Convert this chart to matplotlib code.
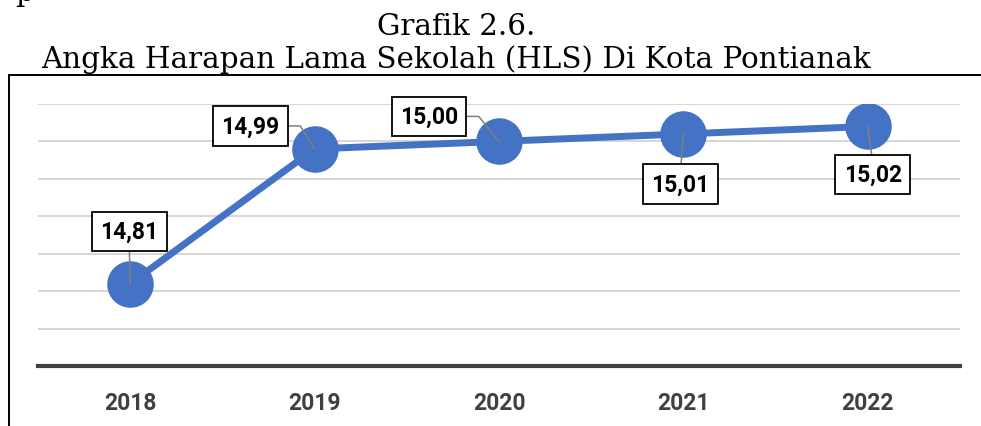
import numpy as np
import matplotlib.pyplot as plt
from matplotlib.patches import Rectangle

# Data
years = ['2018', '2019', '2020', '2021', '2022']
hls = [14.81, 14.99, 15.00, 15.01, 15.02]
labels = ['14,81', '14,99', '15,00', '15,01', '15,02']

# label box offsets (pixels) and leader style per point
offsets = [(-1, 52), (-64, 23), (-70, 25), (-3, -50), (5, -48)]
relpos = [(0.5, 0), (1, 0.5), (1, 0.5), (0.5, 1), (0.5, 1)]
conn = ['arc3', 'angle,angleA=0,angleB=122,rad=0', 'angle,angleA=0,angleB=129,rad=0',
        'arc3', 'arc3']

blue = '#4472C4'
W, H = 981, 427
lab_font = 'Roboto'

fig = plt.figure(figsize=(W / 100, H / 100), dpi=100)
ax = fig.add_axes([38 / W, 1 - 367 / H, 922 / W, (367 - 105) / H])

x = np.arange(len(years))
ax.plot(x, hls, color=blue, lw=5, marker='o', ms=32.5, zorder=3)

for i in range(len(years)):
    ax.annotate(labels[i], xy=(x[i], hls[i]), xytext=offsets[i],
                textcoords='offset pixels', ha='center', va='center',
                fontsize=16.5, fontweight='bold', family=lab_font, color='black',
                bbox=dict(boxstyle='square,pad=0.36', fc='white', ec='black', lw=1.3),
                arrowprops=dict(arrowstyle='-', color='#7f7f7f', lw=1.1,
                                shrinkA=0, shrinkB=0, relpos=relpos[i],
                                connectionstyle=conn[i]),
                zorder=5)

ax.set_xlim(-0.5, len(years) - 0.5)
ax.set_ylim(14.70, 15.05)
ax.set_yticks(np.arange(14.70, 15.051, 0.05))
ax.set_yticklabels([])
ax.set_xticks(x)
ax.set_xticklabels(years, fontsize=16.5, fontweight='bold', family=lab_font,
                   color='#404040')
ax.tick_params(axis='both', length=0)
ax.tick_params(axis='x', pad=18)
ax.grid(axis='y', color='#d0d0d0', lw=1.2)
ax.set_axisbelow(True)
for s in ['left', 'right', 'top']:
    ax.spines[s].set_visible(False)
ax.spines['bottom'].set_color('#404040')
ax.spines['bottom'].set_linewidth(3)
ax.spines['bottom'].set_zorder(2)

# outer chart border
fig.patches.append(Rectangle((8.5 / W, -0.2), 1.2, 1.2 - 76 / H, transform=fig.transFigure,
                             fill=False, ec='black', lw=1.4))

# titles
fig.text(456 / W, 1 - 35 / H, 'Grafik 2.6.', ha='center', va='baseline',
         family='DejaVu Serif', fontsize=21.2)
fig.text(456 / W, 1 - 68 / H, 'Angka Harapan Lama Sekolah (HLS) Di Kota Pontianak',
         ha='center', va='baseline', family='DejaVu Serif', fontsize=21.2)
fig.text(15 / W, 1 - 1 / H, 'p', ha='left', va='baseline', family='DejaVu Serif',
         fontsize=21.2)

fig.savefig('out.png', dpi=100)
